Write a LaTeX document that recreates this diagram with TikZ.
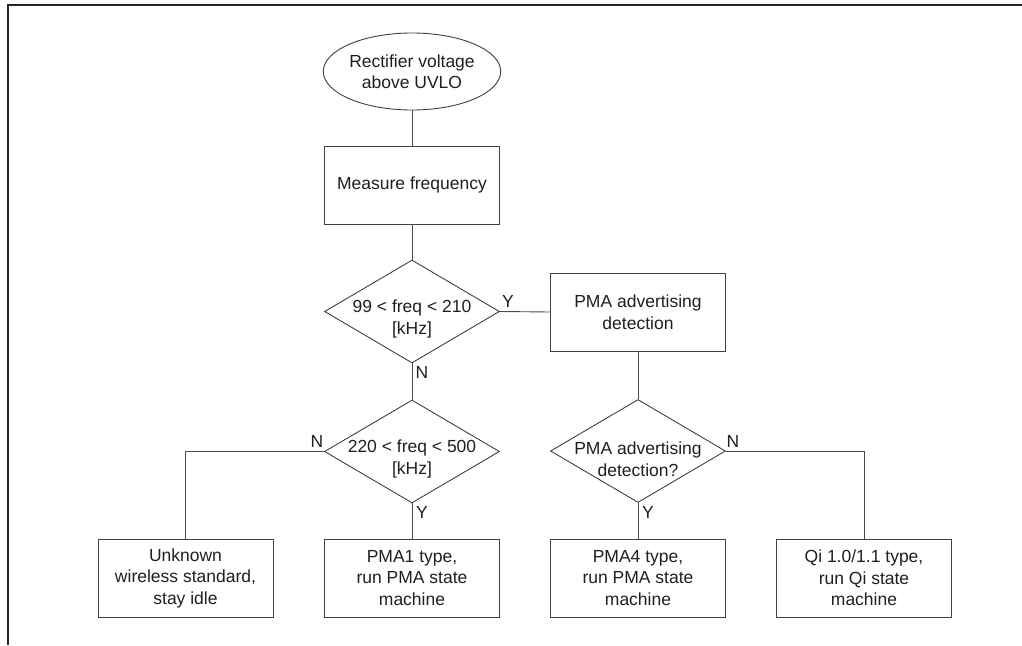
\documentclass[tikz,border=0pt]{standalone}
\usepackage{fontspec}
\setmainfont{Liberation Sans}
\usetikzlibrary{shapes.geometric}
\begin{document}
\begin{tikzpicture}[x=1pt,y=-1pt,
  every node/.style={font=\fontsize{17.5}{21.5}\selectfont, text=black!88},
  conn/.style={draw=black!70, line width=0.9pt},
  box/.style={rectangle, draw=black!75, line width=0.9pt, minimum width=175pt, minimum height=78pt, inner sep=0pt, align=center},
  startnode/.style={ellipse, draw=black!75, line width=0.9pt, minimum width=170pt, minimum height=77pt, inner sep=0pt, align=center},
  dia/.style={diamond, draw=black!75, line width=0.9pt, minimum width=175pt, minimum height=103pt, inner sep=0pt},
  diatext/.style={align=center, inner sep=0pt},
  lbl/.style={inner sep=0pt}
]
\useasboundingbox (0,0) rectangle (1022,645);
\draw[line width=2.6pt, black!85] (8,645) -- (8,5) -- (1022,5);

\node[startnode] (start) at (412,71.5) {Rectifier voltage\\above UVLO};
\node[box] (meas) at (412,185) {Measure frequency};
\node[dia] (d1) at (412,311.5) {};
\node[diatext] (t1) at (412,319) {99 < freq < 210\\{[}kHz{]}};
\node[box] (pmadet) at (638,312) {PMA advertising\\detection};
\node[dia] (d2) at (412,451.5) {};
\node[diatext] (t2) at (412,459) {220 < freq < 500\\{[}kHz{]}};
\node[dia] (d3) at (638,451) {};
\node[diatext] (t3) at (638,459) {PMA advertising\\detection?};
\node[box] (unk) at (185.5,578) {Unknown\\wireless standard,\\stay idle};
\node[box] (pma1) at (412,578) {PMA1 type,\\run PMA state\\machine};
\node[box] (pma4) at (638,578) {PMA4 type,\\run PMA state\\machine};
\node[box] (qi) at (864,578) {Qi 1.0/1.1 type,\\run Qi state\\machine};

\draw[conn] (start) -- (meas);
\draw[conn] (meas) -- (d1);
\draw[conn] (d1.east) -- (pmadet.west);
\draw[conn] (d1.south) -- (d2.north);
\draw[conn] (d2.west) -| (unk.north);
\draw[conn] (d2.south) -- (pma1.north);
\draw[conn] (pmadet) -- (d3);
\draw[conn] (d3.south) -- (pma4.north);
\draw[conn] (d3.east) -| (qi.north);

\node[lbl] (y1) at (508,301) {Y};
\node[lbl] (n1) at (422,372) {N};
\node[lbl] (n2) at (317,441) {N};
\node[lbl] (y2) at (422,512) {Y};
\node[lbl] (y3) at (648,512) {Y};
\node[lbl] (n3) at (733,441) {N};
\end{tikzpicture}
\end{document}
